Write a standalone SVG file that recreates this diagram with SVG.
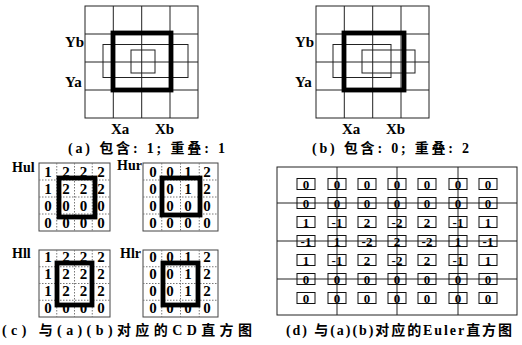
<svg xmlns="http://www.w3.org/2000/svg" width="522" height="345" viewBox="0 0 522 345">
<style>
.bg{fill:#fff}
.grid{fill:none;stroke:#222;stroke-width:1}
.thick{fill:none;stroke:#000;stroke-width:4.8}
.thin{fill:none;stroke:#222;stroke-width:1}
.lbl{font-family:"Liberation Serif",serif;font-weight:bold;font-size:15px;fill:#000}
.cap{font-family:"Liberation Serif","Noto Sans CJK SC",serif;font-weight:bold;font-size:14px;fill:#000}
.cdbox{fill:none;stroke:#444;stroke-width:1}
.dot{stroke:#777;stroke-width:1;stroke-dasharray:1.5 1.5}
.cd{font-family:"Liberation Serif",serif;font-weight:bold;font-size:15px;fill:#000;text-anchor:middle}
.eu{font-family:"Liberation Serif",serif;font-weight:bold;font-size:13px;fill:#000;text-anchor:middle}
.ebox{fill:none;stroke:#111;stroke-width:1}
.eline{fill:none;stroke:#222;stroke-width:1}
</style>
<rect class="bg" x="0" y="0" width="522" height="345"/>

<g id="panel-a">
  <rect class="grid" x="85" y="6" width="113" height="112"/>
  <path class="grid" d="M113.3 6V118M141.7 6V118M170 6V118M85 34H198M85 62H198M85 90H198"/>
  <rect class="thin" x="103" y="44.5" width="85" height="33"/>
  <rect class="thin" x="131" y="50" width="24" height="23"/>
  <rect class="thick" x="113" y="33" width="58" height="57"/>
  <text class="lbl" x="65" y="47">Yb</text>
  <text class="lbl" x="65" y="87">Ya</text>
  <text class="lbl" x="111" y="134">Xa</text>
  <text class="lbl" x="155" y="134">Xb</text>
  <text class="cap" x="68" y="153" textLength="157">(a) 包含: 1; 重叠: 1</text>
</g>

<g id="panel-b">
  <rect class="grid" x="316" y="6" width="113" height="112"/>
  <path class="grid" d="M344.3 6V118M372.7 6V118M401 6V118M316 34H429M316 62H429M316 90H429"/>
  <rect class="thin" x="333" y="44.5" width="58" height="33"/>
  <rect class="thin" x="362" y="50" width="53" height="23"/>
  <rect class="thick" x="344" y="33" width="60" height="57"/>
  <text class="lbl" x="295" y="47">Yb</text>
  <text class="lbl" x="295" y="87">Ya</text>
  <text class="lbl" x="342" y="134">Xa</text>
  <text class="lbl" x="386" y="134">Xb</text>
  <text class="cap" x="312" y="153" textLength="157">(b) 包含: 0; 重叠: 2</text>
</g>

<g id="hul">
  <text class="lbl" x="12" y="172" style="font-size:14px">Hul</text>
  <rect class="cdbox" x="39" y="163" width="71" height="68"/>
  <path class="dot" d="M56.75 163V231M74.5 163V231M92.25 163V231M39 180H110M39 197H110M39 214H110"/>
  <rect class="thick" x="59" y="178" width="36" height="39"/>
  <g class="cd">
    <text x="48" y="177">1</text><text x="66" y="177">2</text><text x="83.5" y="177">2</text><text x="101" y="177">2</text>
    <text x="48" y="194">1</text><text x="66" y="194">2</text><text x="83.5" y="194">2</text><text x="101" y="194">2</text>
    <text x="48" y="211">0</text><text x="66" y="211">0</text><text x="83.5" y="211">0</text><text x="101" y="211">0</text>
    <text x="48" y="228">0</text><text x="66" y="228">0</text><text x="83.5" y="228">0</text><text x="101" y="228">0</text>
  </g>
</g>

<g id="hur">
  <text class="lbl" x="117" y="170" style="font-size:14px">Hur</text>
  <rect class="cdbox" x="143" y="163" width="75" height="68"/>
  <path class="dot" d="M161.75 163V231M180.5 163V231M199.25 163V231M143 180H218M143 197H218M143 214H218"/>
  <rect class="thick" x="162" y="178" width="38" height="37"/>
  <g class="cd">
    <text x="153" y="177">0</text><text x="170" y="177">0</text><text x="188" y="177">1</text><text x="207" y="177">2</text>
    <text x="153" y="194">0</text><text x="170" y="194">0</text><text x="188" y="194">1</text><text x="207" y="194">2</text>
    <text x="153" y="211">0</text><text x="170" y="211">0</text><text x="188" y="211">0</text><text x="207" y="211">0</text>
    <text x="153" y="228">0</text><text x="170" y="228">0</text><text x="188" y="228">0</text><text x="207" y="228">0</text>
  </g>
</g>

<g id="hll">
  <text class="lbl" x="12" y="258" style="font-size:14px">Hll</text>
  <rect class="cdbox" x="39" y="250" width="71" height="67"/>
  <path class="dot" d="M56.75 250V317M74.5 250V317M92.25 250V317M39 266.75H110M39 283.5H110M39 300.25H110"/>
  <rect class="thick" x="57" y="263" width="35" height="42"/>
  <g class="cd">
    <text x="48" y="262">1</text><text x="66" y="262">2</text><text x="83.5" y="262">2</text><text x="101" y="262">2</text>
    <text x="48" y="279">1</text><text x="66" y="279">2</text><text x="83.5" y="279">2</text><text x="101" y="279">2</text>
    <text x="48" y="296">1</text><text x="66" y="296">2</text><text x="83.5" y="296">2</text><text x="101" y="296">2</text>
    <text x="48" y="313">0</text><text x="66" y="313">0</text><text x="83.5" y="313">0</text><text x="101" y="313">0</text>
  </g>
</g>

<g id="hlr">
  <text class="lbl" x="120" y="258" style="font-size:14px">Hlr</text>
  <rect class="cdbox" x="143" y="250" width="75" height="67"/>
  <path class="dot" d="M161.75 250V317M180.5 250V317M199.25 250V317M143 266.75H218M143 283.5H218M143 300.25H218"/>
  <rect class="thick" x="163" y="263" width="35" height="42"/>
  <g class="cd">
    <text x="153" y="262">0</text><text x="170" y="262">0</text><text x="188" y="262">1</text><text x="207" y="262">2</text>
    <text x="153" y="279">0</text><text x="170" y="279">0</text><text x="188" y="279">1</text><text x="207" y="279">2</text>
    <text x="153" y="296">0</text><text x="170" y="296">0</text><text x="188" y="296">1</text><text x="207" y="296">2</text>
    <text x="153" y="313">0</text><text x="170" y="313">0</text><text x="188" y="313">0</text><text x="207" y="313">0</text>
  </g>
</g>
<text class="cap" x="2" y="335" textLength="250">(c) 与(a)(b)对应的CD直方图</text>

<g id="euler">
  <g id="euler-lines">
    <rect class="eline" x="277" y="167" width="240" height="148"/>
    <path class="eline" d="M337 167V315M397 167V315M458 167V315M277 203H517M277 241H517M277 279H517"/>
  </g>
  <g id="euler-boxes" class="ebox">
    <rect x="297" y="178.5" width="18" height="11"/><rect x="328" y="178.5" width="18" height="11"/><rect x="358" y="178.5" width="18" height="11"/><rect x="388" y="178.5" width="18" height="11"/><rect x="418" y="178.5" width="18" height="11"/><rect x="449" y="178.5" width="18" height="11"/><rect x="479" y="178.5" width="18" height="11"/>
    <rect x="297" y="197.5" width="18" height="11"/><rect x="328" y="197.5" width="18" height="11"/><rect x="358" y="197.5" width="18" height="11"/><rect x="388" y="197.5" width="18" height="11"/><rect x="418" y="197.5" width="18" height="11"/><rect x="449" y="197.5" width="18" height="11"/><rect x="479" y="197.5" width="18" height="11"/>
    <rect x="297" y="216.5" width="18" height="11"/><rect x="328" y="216.5" width="18" height="11"/><rect x="358" y="216.5" width="18" height="11"/><rect x="388" y="216.5" width="18" height="11"/><rect x="418" y="216.5" width="18" height="11"/><rect x="449" y="216.5" width="18" height="11"/><rect x="479" y="216.5" width="18" height="11"/>
    <rect x="297" y="235.5" width="18" height="11"/><rect x="328" y="235.5" width="18" height="11"/><rect x="358" y="235.5" width="18" height="11"/><rect x="388" y="235.5" width="18" height="11"/><rect x="418" y="235.5" width="18" height="11"/><rect x="449" y="235.5" width="18" height="11"/><rect x="479" y="235.5" width="18" height="11"/>
    <rect x="297" y="254.5" width="18" height="11"/><rect x="328" y="254.5" width="18" height="11"/><rect x="358" y="254.5" width="18" height="11"/><rect x="388" y="254.5" width="18" height="11"/><rect x="418" y="254.5" width="18" height="11"/><rect x="449" y="254.5" width="18" height="11"/><rect x="479" y="254.5" width="18" height="11"/>
    <rect x="297" y="273.5" width="18" height="11"/><rect x="328" y="273.5" width="18" height="11"/><rect x="358" y="273.5" width="18" height="11"/><rect x="388" y="273.5" width="18" height="11"/><rect x="418" y="273.5" width="18" height="11"/><rect x="449" y="273.5" width="18" height="11"/><rect x="479" y="273.5" width="18" height="11"/>
    <rect x="297" y="292.5" width="18" height="11"/><rect x="328" y="292.5" width="18" height="11"/><rect x="358" y="292.5" width="18" height="11"/><rect x="388" y="292.5" width="18" height="11"/><rect x="418" y="292.5" width="18" height="11"/><rect x="449" y="292.5" width="18" height="11"/><rect x="479" y="292.5" width="18" height="11"/>
  </g>
  <g id="euler-values" class="eu">
    <text x="306" y="188.5">0</text><text x="337" y="188.5">0</text><text x="367" y="188.5">0</text><text x="397" y="188.5">0</text><text x="427" y="188.5">0</text><text x="458" y="188.5">0</text><text x="488" y="188.5">0</text>
    <text x="306" y="207.5">0</text><text x="337" y="207.5">0</text><text x="367" y="207.5">0</text><text x="397" y="207.5">0</text><text x="427" y="207.5">0</text><text x="458" y="207.5">0</text><text x="488" y="207.5">0</text>
    <text x="306" y="226.5">1</text><text x="337" y="226.5">-1</text><text x="367" y="226.5">2</text><text x="397" y="226.5">-2</text><text x="427" y="226.5">2</text><text x="458" y="226.5">-1</text><text x="488" y="226.5">1</text>
    <text x="306" y="245.5">-1</text><text x="337" y="245.5">1</text><text x="367" y="245.5">-2</text><text x="397" y="245.5">2</text><text x="427" y="245.5">-2</text><text x="458" y="245.5">1</text><text x="488" y="245.5">-1</text>
    <text x="306" y="264.5">1</text><text x="337" y="264.5">-1</text><text x="367" y="264.5">2</text><text x="397" y="264.5">-2</text><text x="427" y="264.5">2</text><text x="458" y="264.5">-1</text><text x="488" y="264.5">1</text>
    <text x="306" y="283.5">0</text><text x="337" y="283.5">0</text><text x="367" y="283.5">0</text><text x="397" y="283.5">0</text><text x="427" y="283.5">0</text><text x="458" y="283.5">0</text><text x="488" y="283.5">0</text>
    <text x="306" y="302.5">0</text><text x="337" y="302.5">0</text><text x="367" y="302.5">0</text><text x="397" y="302.5">0</text><text x="427" y="302.5">0</text><text x="458" y="302.5">0</text><text x="488" y="302.5">0</text>
  </g>
</g>
<text class="cap" x="286" y="335" textLength="226">(d) 与(a)(b)对应的Euler直方图</text>
</svg>
